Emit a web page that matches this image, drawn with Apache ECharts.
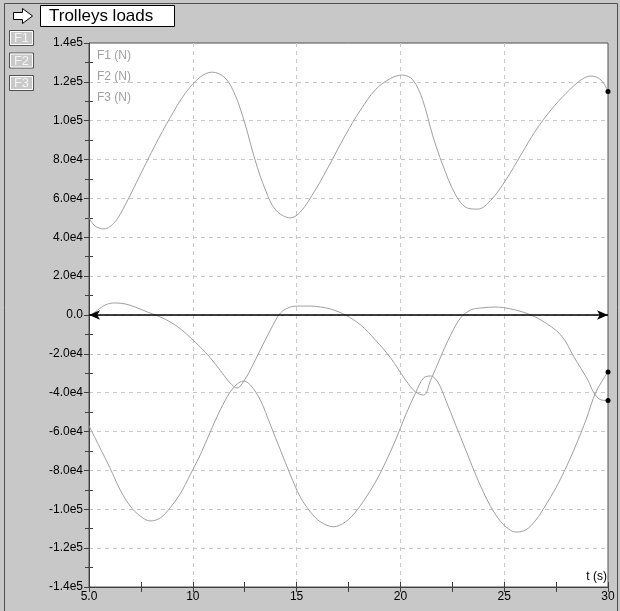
<!DOCTYPE html>
<html>
<head>
<meta charset="utf-8">
<script src="https://cdn.jsdelivr.net/npm/echarts@6/dist/echarts.min.js"></script>
<style>
html,body{margin:0;padding:0;background:#c8c8c8;}
#chart{width:620px;height:611px;}
</style>
</head>
<body>
<div id="chart"></div>
<script>
// ---- data ----
const seriesNames = ['F1 (N)', 'F2 (N)', 'F3 (N)'];
const xTickLabels = ['5.0', '10', '15', '20', '25', '30'];

const tF1 = [5.0,5.29,5.72,6.25,6.74,7.46,8.19,8.9,9.63,10.36,10.94,11.56,12.05,12.53,13.0,13.5,14.0,14.7,15.18,15.9,16.63,17.35,18.08,18.8,19.53,20.1,20.6,21.07,21.55,22.04,22.66,23.24,23.73,24.35,25.08,25.8,26.53,27.25,27.97,28.7,29.18,29.66,30];
const vF1 = [50000,45800,44300,47900,56600,72000,87500,101400,114000,122500,125000,122000,113000,97800,79800,64300,54000,50000,53000,64300,78200,92600,105500,116000,121800,123500,121000,110700,92600,77200,61800,55000,54500,59000,69500,82300,95200,105500,114000,121000,123000,121000,115000];

const tF2 = [5.0,5.29,5.77,6.25,6.74,7.22,7.94,8.43,8.9,9.39,9.87,10.36,10.84,11.32,11.8,12.14,12.43,12.77,13.25,13.74,14.22,14.7,15.18,15.67,16.15,16.63,17.35,18.08,18.8,19.53,20.25,20.73,21.12,21.46,21.94,22.42,22.9,23.39,23.87,24.6,25.32,26.04,26.77,27.73,28.36,29.03,29.32,29.66,30];
const vF2 = [-500,1500,5100,6200,5700,4100,1000,-1000,-3500,-7000,-11500,-16500,-22000,-28500,-35000,-37600,-34500,-28300,-18000,-7700,1000,4100,4600,4600,4100,3100,0,-5100,-12900,-22100,-33500,-39600,-41200,-33500,-21600,-10300,-1500,2600,3600,4100,3100,1000,-2600,-10300,-21600,-33500,-40000,-43700,-44000];

const tF3 = [5.0,5.53,6.01,6.5,6.98,7.46,7.94,8.43,8.9,9.39,9.87,10.36,10.84,11.32,11.8,12.14,12.43,12.77,13.25,13.74,14.22,14.7,15.18,15.67,16.15,16.78,17.35,17.84,18.32,18.8,19.29,19.77,20.25,20.73,21.12,21.46,21.8,22.18,22.66,23.15,23.63,24.11,24.6,25.08,25.56,26.04,26.53,27.0,27.49,27.97,28.46,28.94,29.42,30];
const vF3 = [-57000,-68400,-78700,-90000,-98300,-103400,-106000,-104500,-99300,-92100,-82300,-72000,-60200,-48900,-39600,-35500,-34000,-36000,-43700,-56600,-69500,-82300,-93700,-101400,-106500,-109000,-106500,-101400,-94200,-86000,-75700,-64300,-51500,-40100,-32400,-31400,-34500,-43700,-56600,-69500,-82300,-93700,-103000,-109000,-111700,-110600,-105500,-97800,-89000,-78700,-66900,-54000,-39600,-29300];

// ---- build ----
const FONT = '"Liberation Sans", Arial, sans-serif';
const LINE = '#a0a0a0';
const AX = '#404040';

function pairs(t, v) {
  return t.map((x, i) => {
    const p = [x, v[i]];
    if (i === t.length - 1) return { value: p, itemStyle: { color: '#000' } };
    return p;
  });
}
function mkSeries(name, t, v, extra) {
  const n = t.length;
  return Object.assign({
    name: name, type: 'line', data: pairs(t, v),
    xAxisIndex: 0, yAxisIndex: 0,
    smooth: 0.35,
    showSymbol: true, symbol: 'circle',
    symbolSize: (val, p) => (p.dataIndex === n - 1 ? 5 : 0),
    color: LINE,
    itemStyle: { color: LINE },
    lineStyle: { color: LINE, width: 1 },
    emphasis: { disabled: true },
    silent: true, z: 3
  }, extra || {});
}

const fmtY = v => (v === 0 ? '0.0' : v.toExponential(1).replace('e+', 'e'));
const fmtX = v => { const i = Math.round((v - 5) / 5); return xTickLabels[i] !== undefined ? xTickLabels[i] : String(v); };

const chart = echarts.init(document.getElementById('chart'));
chart.setOption({
  animation: false,
  backgroundColor: '#c8c8c8',
  textStyle: { fontFamily: FONT },
  title: {
    text: 'Trolleys loads', left: 40, top: 5,
    padding: [2, 22, 2, 9],
    backgroundColor: '#fff', borderColor: '#000', borderWidth: 1,
    textStyle: { fontFamily: FONT, fontSize: 17, fontWeight: 'normal', color: '#000', lineHeight: 18 }
  },
  legend: {
    data: seriesNames, orient: 'vertical', left: 87, top: 44,
    itemWidth: 0, itemHeight: 0, itemGap: 7, selectedMode: false,
    icon: 'rect',
    textStyle: { color: LINE, fontSize: 12, fontFamily: FONT, lineHeight: 14 }
  },
  grid: { left: 89, right: 12, top: 43, bottom: 24, show: true, backgroundColor: '#fff', borderColor: '#505050', borderWidth: 1 },
  xAxis: [
    { type: 'value', min: 5, max: 30, interval: 5, position: 'bottom',
      axisLine: { show: true, onZero: false, lineStyle: { color: AX, width: 1 } },
      axisTick: { show: true, inside: false, length: 5, lineStyle: { color: AX } },
      minorTick: { show: true, splitNumber: 2, length: 5, lineStyle: { color: AX } },
      axisLabel: { formatter: fmtX, color: '#000', fontSize: 12, margin: 4, fontFamily: FONT, showMinLabel: true, showMaxLabel: true },
      splitLine: { show: true, showMinLine: false, showMaxLine: false, lineStyle: { color: '#c8c8c8', type: [4, 4] } },
      minorSplitLine: { show: false } },
    { type: 'value', min: 5, max: 30, interval: 5, position: 'bottom',
      axisLine: { show: false, onZero: false },
      axisTick: { show: true, inside: true, length: 5, lineStyle: { color: AX } },
      minorTick: { show: true, splitNumber: 2, length: 5, lineStyle: { color: AX } },
      axisLabel: { show: false }, splitLine: { show: false } }
  ],
  yAxis: [
    { type: 'value', min: -140000, max: 140000, interval: 20000, position: 'left',
      axisLine: { show: true, onZero: false, lineStyle: { color: AX, width: 1 } },
      axisTick: { show: true, inside: false, length: 5, lineStyle: { color: AX } },
      minorTick: { show: true, splitNumber: 2, length: 4, lineStyle: { color: AX } },
      axisLabel: { formatter: fmtY, color: '#000', fontSize: 12, margin: 6, fontFamily: FONT, showMinLabel: true, showMaxLabel: true },
      splitLine: { show: true, showMinLine: false, showMaxLine: false, lineStyle: { color: '#c8c8c8', type: [4, 4] } } },
    { type: 'value', min: -140000, max: 140000, interval: 20000, position: 'left',
      axisLine: { show: false, onZero: false },
      axisTick: { show: false, inside: true },
      minorTick: { show: true, splitNumber: 2, length: 4, lineStyle: { color: AX } },
      axisLabel: { show: false }, splitLine: { show: false } }
  ],
  series: [
    mkSeries(seriesNames[0], tF1, vF1, {
      markLine: {
        silent: true, symbol: ['arrow', 'arrow'], symbolSize: [7, 11], precision: 0,
        label: { show: false },
        lineStyle: { color: '#000', type: 'solid', width: 1.5 },
        emphasis: { disabled: true },
        data: [{ yAxis: 0 }]
      }
    }),
    mkSeries(seriesNames[1], tF2, vF2),
    mkSeries(seriesNames[2], tF3, vF3)
  ],
  graphic: [
    { type: 'rect', silent: true, z: -1, shape: { x: 4.5, y: 3.5, width: 613, height: 620 }, style: { fill: 'none', stroke: '#505050', lineWidth: 1 } },
    { type: 'polygon', silent: true,
      shape: { points: [[13.5, 12.5], [22.5, 12.5], [22.5, 8.5], [32.5, 16], [22.5, 23.5], [22.5, 19.5], [13.5, 19.5]] },
      style: { fill: '#fff', stroke: '#000', lineWidth: 1 } },
    { type: 'group', silent: true, children: ['F1', 'F2', 'F3'].map((s, i) => ({
      type: 'group', x: 9, y: 30 + i * 22.5, children: [
        { type: 'rect', shape: { x: 0.5, y: 0.5, width: 24, height: 15 }, style: { fill: '#c8c8c8', stroke: '#505050', lineWidth: 1 } },
        { type: 'rect', shape: { x: 1.5, y: 1.5, width: 22, height: 13 }, style: { fill: 'none', stroke: '#fff', lineWidth: 1 } },
        { type: 'text', x: 12.5, y: 8.5, style: { text: s, fill: '#f4f4f4', font: '13px ' + FONT, textAlign: 'center', textVerticalAlign: 'middle' } }
      ] })) },
    { type: 'text', silent: true, right: 13, top: 571, style: { text: 't (s)', fill: '#000', font: '12px ' + FONT } }
  ]
});
</script>
</body>
</html>
